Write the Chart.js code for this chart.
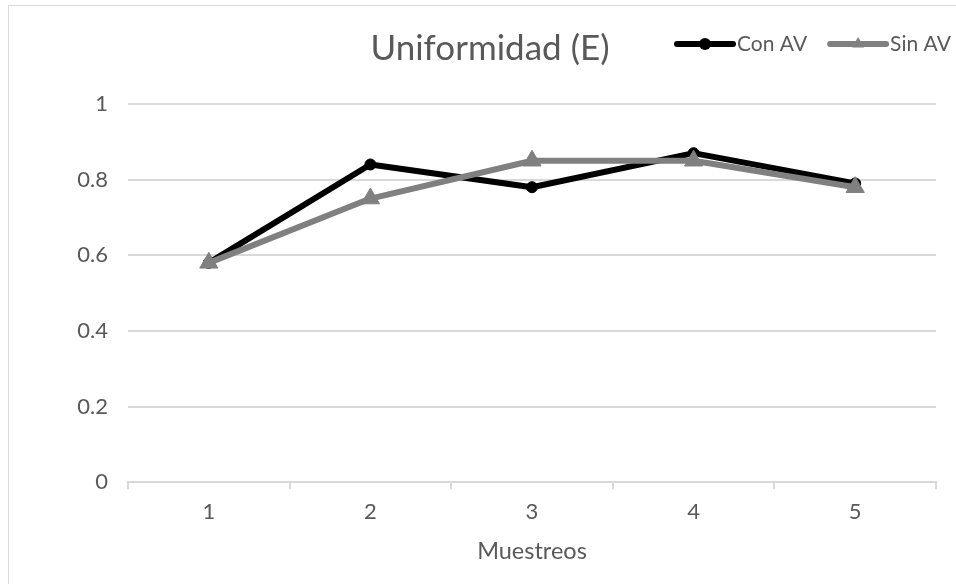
<!DOCTYPE html>
<html>
<head>
<meta charset="utf-8">
<script src="https://cdn.jsdelivr.net/npm/chart.js@4/dist/chart.umd.min.js"></script>
<style>
  html, body { margin: 0; padding: 0; background: #ffffff; }
  #wrap { width: 956px; height: 584px; }
</style>
</head>
<body>
<div id="wrap"><canvas id="c" width="956" height="584"></canvas></div>
<script>
// Sampling rounds and the evenness index for each treatment
const muestreos = ['1', '2', '3', '4', '5'];
const conAV = [0.58, 0.84, 0.78, 0.87, 0.79];
const sinAV = [0.58, 0.75, 0.85, 0.85, 0.78];
const yTicks = [0, 0.2, 0.4, 0.6, 0.8, 1];

const TEXT = '#595959';
const GRID = '#d9d9d9';

// Thin frame round the whole chart
const chartFrame = {
  id: 'chartFrame',
  beforeDraw(chart, args, o) {
    const ctx = chart.ctx;
    ctx.save();
    ctx.fillStyle = '#ffffff';
    ctx.fillRect(0, 0, chart.width, chart.height);
    ctx.strokeStyle = o.color;
    ctx.lineWidth = 1;
    ctx.strokeRect(o.left + 0.5, o.top + 0.5, chart.width + 20, chart.height + 20);
    ctx.restore();
  }
};

// Legend drawn as a line sample with its marker, beside the title
const lineLegend = {
  id: 'lineLegend',
  afterDraw(chart, args, o) {
    const ctx = chart.ctx;
    ctx.save();
    ctx.font = o.fontSize + 'px ' + o.family;
    ctx.textBaseline = 'middle';
    ctx.textAlign = 'left';
    let x = o.left;
    const y = o.y;
    chart.data.datasets.forEach(ds => {
      ctx.strokeStyle = ds.borderColor;
      ctx.lineWidth = ds.borderWidth;
      ctx.lineCap = 'round';
      ctx.beginPath();
      ctx.moveTo(x, y);
      ctx.lineTo(x + o.sample, y);
      ctx.stroke();
      const cx = x + o.sample / 2;
      ctx.fillStyle = ds.pointBackgroundColor;
      ctx.beginPath();
      if (ds.pointStyle === 'triangle') {
        const r = o.triangle;
        ctx.moveTo(cx, y - r);
        ctx.lineTo(cx + r * 0.866, y + r / 2);
        ctx.lineTo(cx - r * 0.866, y + r / 2);
        ctx.closePath();
      } else {
        ctx.arc(cx, y, o.circle, 0, Math.PI * 2);
      }
      ctx.fill();
      ctx.fillStyle = o.color;
      const tx = x + o.sample + o.textGap;
      ctx.fillText(ds.label, tx, y);
      x = tx + ctx.measureText(ds.label).width + o.itemGap;
    });
    ctx.restore();
  }
};

Chart.defaults.font.family = 'Lato';
Chart.defaults.color = TEXT;

new Chart(document.getElementById('c'), {
  type: 'line',
  data: {
    labels: muestreos,
    datasets: [
      {
        label: 'Con AV',
        data: conAV,
        borderColor: '#000000',
        backgroundColor: '#000000',
        pointBackgroundColor: '#000000',
        pointBorderColor: '#000000',
        borderWidth: 6,
        pointStyle: 'circle',
        pointRadius: 5.5,
        pointBorderWidth: 1,
        borderJoinStyle: 'round',
        borderCapStyle: 'round',
        tension: 0,
        order: 1
      },
      {
        label: 'Sin AV',
        data: sinAV,
        borderColor: '#808080',
        backgroundColor: '#808080',
        pointBackgroundColor: '#808080',
        pointBorderColor: '#808080',
        borderWidth: 6,
        pointStyle: 'triangle',
        pointRadius: 10.5,
        pointBorderWidth: 1,
        borderJoinStyle: 'round',
        borderCapStyle: 'round',
        tension: 0,
        order: 0
      }
    ]
  },
  options: {
    responsive: false,
    animation: false,
    devicePixelRatio: 1,
    layout: { padding: { left: 44, right: 20, top: 0, bottom: 18.9 } },
    plugins: {
      legend: { display: false },
      tooltip: { enabled: false },
      title: {
        display: true,
        text: 'Uniformidad (E)',
        color: TEXT,
        font: { size: 35, weight: 'normal', lineHeight: 1.2 },
        padding: { top: 28, bottom: 34 }
      },
      chartFrame: { color: GRID, left: 8, top: 5 },
      lineLegend: {
        left: 677, y: 44, sample: 56, textGap: 4, itemGap: 23,
        circle: 6, triangle: 7, fontSize: 21, family: 'Lato', color: TEXT
      }
    },
    scales: {
      x: {
        offset: true,
        grid: {
          offset: true,
          drawOnChartArea: false,
          drawTicks: true,
          tickLength: 7,
          color: GRID,
          lineWidth: 2
        },
        border: { display: true, color: GRID, width: 2 },
        ticks: { padding: 9.8, color: TEXT, font: { size: 22 } },
        title: {
          display: true,
          text: 'Muestreos',
          color: TEXT,
          font: { size: 23.5 },
          padding: { top: 1.7, bottom: 0 }
        }
      },
      y: {
        min: 0,
        max: 1,
        afterBuildTicks: scale => { scale.ticks = yTicks.map(v => ({ value: v })); },
        afterFit: scale => { scale.width = 84; },
        grid: { color: GRID, lineWidth: 2, drawTicks: false },
        border: { display: false },
        ticks: {
          padding: 20,
          color: TEXT,
          font: { size: 22 },
          callback: v => String(Math.round(v * 10) / 10)
        }
      }
    }
  },
  plugins: [chartFrame, lineLegend]
});
</script>
</body>
</html>
